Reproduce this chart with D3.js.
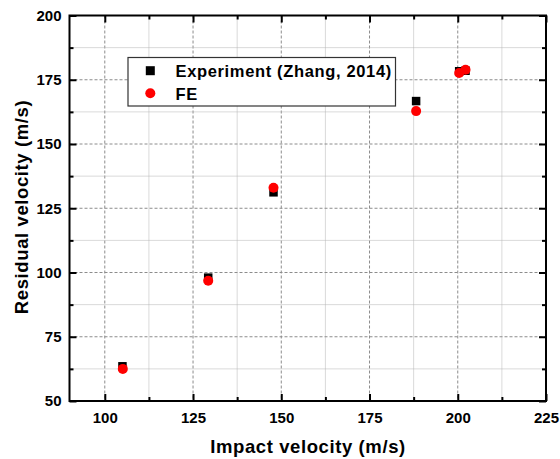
<!DOCTYPE html>
<html>
<head>
<meta charset="utf-8">
<script src="https://cdn.jsdelivr.net/npm/d3@7"></script>
<style>
  body { margin: 0; background: #fff; }
  svg { display: block; font-family: Arial, "Liberation Sans", sans-serif; }
</style>
</head>
<body>
<svg id="chart" width="560" height="459"></svg>
<script>
// Impact vs residual velocity: experiment and finite-element results
const expImpact   = [105.0, 129.3, 147.8, 188.2, 200.4, 202.2];
const expResidual = [63.5, 98.0, 131.2, 166.7, 178.3, 178.5];
const feImpact    = [105.1, 129.3, 147.8, 188.2, 200.4, 202.2];
const feResidual  = [62.5, 96.8, 133.0, 162.8, 177.6, 178.9];
const xTicks = [100, 125, 150, 175, 200, 225];
const yTicks = [50, 75, 100, 125, 150, 175, 200];
const seriesNames = ["Experiment (Zhang, 2014)", "FE"];

const svg = d3.select("#chart");
const pLeft = 69.5, pRight = 546, pTop = 15.5, pBottom = 401;

const x = d3.scaleLinear().domain([90, 225]).range([pLeft, pRight]);
const y = d3.scaleLinear().domain([50, 200]).range([pBottom, pTop]);

const xMinor = d3.range(112.5, 225, 25);
const yMinor = d3.range(62.5, 200, 25);

// Grid: major dashed, minor dotted
const grid = svg.append("g");
grid.selectAll(".gxM").data(xTicks.filter(v => v > 90 && v < 225)).enter().append("line")
  .attr("x1", d => x(d)).attr("x2", d => x(d)).attr("y1", pTop).attr("y2", pBottom)
  .attr("stroke", "#8c8c8c").attr("stroke-width", 1).attr("stroke-dasharray", "3,2");
grid.selectAll(".gxm").data(xMinor).enter().append("line")
  .attr("x1", d => x(d)).attr("x2", d => x(d)).attr("y1", pTop).attr("y2", pBottom)
  .attr("stroke", "#b4b4b4").attr("stroke-width", 1).attr("stroke-dasharray", "1,1");
grid.selectAll(".gyM").data(yTicks.filter(v => v > 50 && v < 200)).enter().append("line")
  .attr("y1", d => y(d)).attr("y2", d => y(d)).attr("x1", pLeft).attr("x2", pRight)
  .attr("stroke", "#8c8c8c").attr("stroke-width", 1).attr("stroke-dasharray", "3,2");
grid.selectAll(".gym").data(yMinor).enter().append("line")
  .attr("y1", d => y(d)).attr("y2", d => y(d)).attr("x1", pLeft).attr("x2", pRight)
  .attr("stroke", "#b4b4b4").attr("stroke-width", 1).attr("stroke-dasharray", "1,1");

// Axes with inward ticks on all four sides
function axisGroup(axis, tx, ty) {
  const g = svg.append("g").attr("transform", `translate(${tx},${ty})`).call(axis);
  g.select(".domain").remove();
  g.selectAll("line").attr("stroke", "#000").attr("stroke-width", 2);
  return g;
}
const tickFmt = d3.format("d");
const bx = axisGroup(d3.axisBottom(x).tickValues(xTicks).tickSize(-7).tickPadding(11).tickFormat(tickFmt), 0, pBottom);
bx.selectAll("text").attr("font-size", 15).attr("font-weight", "bold").attr("fill", "#000");
axisGroup(d3.axisBottom(x).tickValues(xMinor).tickSize(-4).tickFormat(""), 0, pBottom);
axisGroup(d3.axisTop(x).tickValues(xTicks).tickSize(-7).tickFormat(""), 0, pTop);
axisGroup(d3.axisTop(x).tickValues(xMinor).tickSize(-4).tickFormat(""), 0, pTop);

const ly = axisGroup(d3.axisLeft(y).tickValues(yTicks).tickSize(-7).tickPadding(8).tickFormat(tickFmt), pLeft, 0);
ly.selectAll("text").attr("font-size", 15).attr("font-weight", "bold").attr("fill", "#000");
axisGroup(d3.axisLeft(y).tickValues(yMinor).tickSize(-4).tickFormat(""), pLeft, 0);
axisGroup(d3.axisRight(y).tickValues(yTicks).tickSize(-7).tickFormat(""), pRight, 0);
axisGroup(d3.axisRight(y).tickValues(yMinor).tickSize(-4).tickFormat(""), pRight, 0);

// Frame
svg.append("rect").attr("x", pLeft).attr("y", pTop).attr("width", pRight - pLeft).attr("height", pBottom - pTop)
  .attr("fill", "none").attr("stroke", "#000").attr("stroke-width", 2);

// Axis titles
svg.append("text").attr("x", 308).attr("y", 453).attr("text-anchor", "middle")
  .attr("font-size", 18.5).attr("letter-spacing", 0.6).attr("font-weight", "bold").text("Impact velocity (m/s)");
svg.append("text").attr("transform", "translate(27.5,207) rotate(-90)").attr("text-anchor", "middle")
  .attr("font-size", 18.5).attr("letter-spacing", 0.6).attr("font-weight", "bold").text("Residual velocity (m/s)");

// Markers
const sq = 8.5;
svg.append("g").selectAll("rect").data(expImpact.map((v, i) => [v, expResidual[i]])).enter().append("rect")
  .attr("x", d => x(d[0]) - sq / 2).attr("y", d => y(d[1]) - sq / 2)
  .attr("width", sq).attr("height", sq).attr("fill", "#000");
svg.append("g").selectAll("circle").data(feImpact.map((v, i) => [v, feResidual[i]])).enter().append("circle")
  .attr("cx", d => x(d[0])).attr("cy", d => y(d[1])).attr("r", 5).attr("fill", "#ff0000");

// Legend
const lg = svg.append("g");
lg.append("rect").attr("x", 128).attr("y", 57.5).attr("width", 267.5).attr("height", 48.5)
  .attr("fill", "#fff").attr("stroke", "#333").attr("stroke-width", 1.2);
lg.append("rect").attr("x", 150.3 - 4.5).attr("y", 70.7 - 4.5).attr("width", 9).attr("height", 9).attr("fill", "#000");
lg.append("circle").attr("cx", 150.3).attr("cy", 93.3).attr("r", 5).attr("fill", "#ff0000");
lg.append("text").attr("x", 175.5).attr("y", 77).attr("font-size", 16.5).attr("letter-spacing", 0.65)
  .attr("font-weight", "bold").text(seriesNames[0]);
lg.append("text").attr("x", 175.5).attr("y", 99.5).attr("font-size", 16.5).attr("letter-spacing", 0.65)
  .attr("font-weight", "bold").text(seriesNames[1]);
</script>
</body>
</html>
